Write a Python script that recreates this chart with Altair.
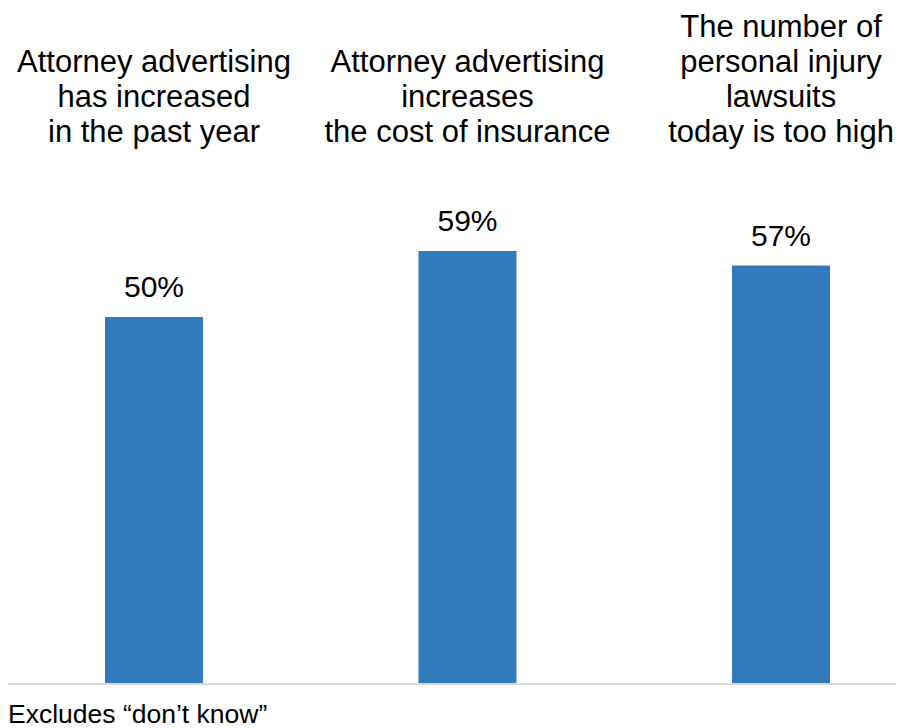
import altair as alt
import pandas as pd

categories = ["A", "B", "C"]
labels = [
    "Attorney advertising\nhas increased\n in the past year",
    "Attorney advertising\nincreases\nthe cost of insurance",
    "The number of\npersonal injury\nlawsuits\ntoday is too high",
]
values = [50, 59, 57]
value_text = ["50%", "59%", "57%"]
footnote = "Excludes \u201cdon\u2019t know\u201d"

df = pd.DataFrame({"cat": categories, "label": labels, "value": values, "vt": value_text})

FONT = "Liberation Sans"
LH = 35

x = alt.X("cat:N", sort=categories, axis=None,
          scale=alt.Scale(range=[-10.75, 929.75], paddingInner=0.6874, paddingOuter=0.3437))
yscale = alt.Scale(domain=[0, 91.28], nice=False, zero=True)

base = alt.Chart(df)

bars = base.mark_bar(color="#337ABD").encode(
    x=x, y=alt.Y("value:Q", scale=yscale, axis=None)
)

vals = base.mark_text(font=FONT, fontSize=30, color="#000000", baseline="alphabetic", dy=-20).encode(
    x=x, y=alt.Y("value:Q", scale=yscale, axis=None), text="vt:N"
)

heads = base.transform_calculate(
    off=f"-(length(split(datum.label, '\\n')) - 1) * {LH}"
).mark_text(font=FONT, fontSize=31, lineHeight=LH, color="#000000",
            baseline="alphabetic", lineBreak="\n").encode(
    x=x, y=alt.value(128), yOffset=alt.YOffset("off:Q", scale=None), text="label:N"
)

baseline_rule = alt.Chart(pd.DataFrame({"v": [0]})).mark_rule(color="#d9d9d9", strokeWidth=2).encode(
    y=alt.Y("v:Q", scale=yscale, axis=None), x=alt.value(0), x2=alt.value(888)
)

foot = alt.Chart(pd.DataFrame({"t": [footnote]})).mark_text(
    font=FONT, fontSize=26.5, align="left", baseline="alphabetic", color="#000000"
).encode(x=alt.value(0), y=alt.value(709), text="t:N")

chart = alt.layer(bars, baseline_rule, vals, heads, foot).properties(
    width=888, height=670,
    autosize=alt.AutoSizeParams(type="none"),
    padding={"left": 0, "top": 6, "right": 0, "bottom": 44},
).configure_view(stroke=None)

chart.save("out.html", embed_options={"renderer": "svg", "actions": False})
